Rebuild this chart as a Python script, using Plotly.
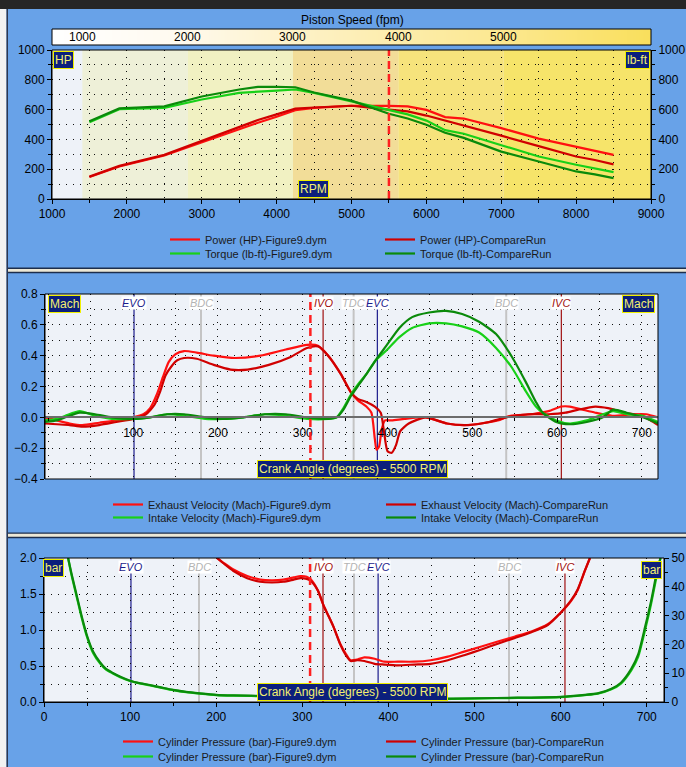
import numpy as np
import plotly.graph_objects as go

W, H = 686, 767
def px(x): return x / W
def py(y): return 1 - y / H

# ---------------- data: top panel (engine power / torque) ----------------
rpm = [1500, 1900, 2500, 3000, 3500, 3750, 4000, 4250, 4500, 5000, 5500, 5750, 6000, 6250, 6500, 7000, 7500, 8000, 8250, 8500]
power_f9 = [148, 218, 292, 382, 472, 512, 552, 596, 612, 626, 625, 622, 598, 550, 540, 476, 405, 350, 325, 296]
power_cr = [150, 222, 296, 390, 486, 530, 568, 606, 614, 626, 600, 588, 560, 525, 490, 425, 355, 285, 262, 232]
torque_f9 = [515, 603, 612, 668, 712, 722, 728, 735, 712, 655, 598, 568, 526, 462, 438, 360, 285, 230, 205, 180]
torque_cr = [522, 608, 622, 688, 735, 752, 752, 750, 715, 660, 572, 540, 498, 445, 410, 318, 252, 185, 165, 140]
rpm_ticks = [1000, 2000, 3000, 4000, 5000, 6000, 7000, 8000, 9000]
piston_ticks = [1000, 2000, 3000, 4000, 5000]
piston_band_edges = [1000, 2000, 3000, 4000, 5000, 6400]
piston_band_colors = ["#eef0d8", "#f1f1c2", "#f2dd98", "#f6e37c", "#f6e46a"]
current_rpm = 5500

# ---------------- data: middle panel (port velocities) ----------------
exh_f9_deg = [-4, 10, 25, 40, 60, 80, 100, 112, 120, 128, 135, 142, 150, 160, 175, 195, 220, 250, 280, 305, 318, 330, 345, 357, 365, 375, 381, 385, 387, 390, 393, 397, 405, 420, 445, 470, 490, 510, 530, 545, 570, 590, 605, 615, 630, 645, 665, 690, 705, 719]
exh_f9 = [0.0, -0.02, -0.04, -0.05, -0.035, -0.02, 0.0, 0.02, 0.06, 0.15, 0.26, 0.36, 0.41, 0.43, 0.42, 0.40, 0.385, 0.40, 0.44, 0.47, 0.465, 0.40, 0.28, 0.16, 0.11, 0.07, 0.03, -0.14, -0.21, -0.19, -0.08, -0.02, -0.02, -0.01, 0.0, -0.04, -0.05, -0.04, -0.02, 0.01, 0.02, 0.04, 0.07, 0.07, 0.05, 0.03, 0.01, 0.02, 0.02, 0.0]
exh_cr_deg = [-4, 10, 25, 40, 60, 80, 100, 115, 125, 132, 138, 145, 152, 160, 175, 195, 215, 235, 260, 285, 305, 318, 330, 345, 357, 365, 375, 385, 392, 396, 400, 405, 410, 415, 425, 445, 470, 495, 520, 540, 565, 590, 610, 625, 645, 660, 680, 700, 710, 719]
exh_cr = [-0.04, -0.045, -0.05, -0.06, -0.05, -0.03, -0.01, 0.02, 0.08, 0.17, 0.27, 0.33, 0.37, 0.385, 0.38, 0.34, 0.31, 0.31, 0.34, 0.39, 0.45, 0.46, 0.40, 0.28, 0.16, 0.12, 0.10, 0.07, 0.03, -0.10, -0.22, -0.23, -0.18, -0.09, -0.04, 0.0, -0.04, -0.05, -0.03, 0.0, 0.02, 0.02, 0.03, 0.05, 0.07, 0.06, 0.03, 0.01, -0.02, -0.05]
int_deg = [-4, 10, 20, 37, 55, 75, 100, 120, 140, 160, 185, 205, 230, 255, 280, 305, 330, 340, 348, 357, 366, 375, 386, 398, 414, 429, 449, 469, 488, 508, 528, 547, 563, 575, 583, 599, 615, 635, 654, 666, 682, 701, 719]
int_f9 = [-0.02, -0.01, 0.01, 0.04, 0.01, -0.01, -0.01, 0.0, 0.02, 0.01, -0.01, -0.01, 0.0, 0.02, 0.01, -0.01, -0.01, 0.0, 0.06, 0.15, 0.22, 0.28, 0.37, 0.43, 0.52, 0.58, 0.61, 0.61, 0.59, 0.55, 0.45, 0.32, 0.17, 0.07, 0.03, -0.02, -0.04, -0.02, 0.02, 0.04, 0.02, 0.01, -0.03]
int_cr = [-0.03, -0.02, 0.0, 0.03, 0.02, 0.0, -0.01, 0.0, 0.02, 0.02, 0.0, -0.01, 0.0, 0.02, 0.02, 0.0, -0.01, 0.0, 0.05, 0.14, 0.21, 0.28, 0.37, 0.46, 0.58, 0.65, 0.68, 0.69, 0.67, 0.62, 0.54, 0.39, 0.23, 0.10, 0.03, -0.03, -0.045, -0.03, 0.0, 0.05, 0.03, 0.0, -0.04]

# ---------------- data: bottom panel (cylinder pressure) ----------------
cyl_red_deg = [201, 210, 220, 236, 251, 265, 278, 290, 298, 305, 310, 318, 325, 331, 336, 344, 350, 356, 364, 372, 384, 395, 411, 430, 449, 469, 488, 508, 527, 547, 566, 585, 600, 612, 620, 628, 634]
cyl_red_f9 = [2.0, 1.92, 1.84, 1.75, 1.70, 1.69, 1.70, 1.73, 1.75, 1.74, 1.70, 1.55, 1.33, 1.18, 1.05, 0.81, 0.68, 0.58, 0.59, 0.62, 0.60, 0.56, 0.56, 0.56, 0.58, 0.63, 0.70, 0.77, 0.84, 0.91, 0.98, 1.08, 1.24, 1.40, 1.56, 1.82, 2.0]
cyl_red_cr = [2.0, 1.91, 1.82, 1.72, 1.67, 1.66, 1.67, 1.70, 1.72, 1.71, 1.68, 1.55, 1.33, 1.18, 1.05, 0.80, 0.66, 0.57, 0.58, 0.57, 0.53, 0.52, 0.51, 0.52, 0.53, 0.58, 0.65, 0.73, 0.81, 0.89, 0.97, 1.07, 1.24, 1.41, 1.57, 1.82, 2.0]
cyl_grn_deg = [28, 32, 38, 44, 50, 57, 65, 72, 80, 90, 100, 112, 123, 137, 150, 165, 181, 200, 220, 260, 300, 350, 400, 450, 500, 550, 600, 628, 643, 659, 670, 682, 690, 698, 705, 713, 716]
cyl_grn_f9 = [50, 44, 36.5, 29, 22.5, 17, 13.4, 11.2, 9.9, 8.4, 7.3, 6.4, 5.8, 4.9, 4.1, 3.4, 2.9, 2.4, 2.2, 2.0, 1.9, 1.5, 1.1, 1.0, 1.2, 1.4, 1.7, 2.4, 2.9, 4.4, 6.4, 11, 15.7, 25, 34, 46, 50]
cyl_grn_cr = [50, 44.5, 37, 29.5, 23, 17.5, 13.8, 11.5, 10.1, 8.6, 7.4, 6.5, 5.9, 5.0, 4.2, 3.5, 3.0, 2.5, 2.3, 2.1, 2.0, 1.6, 1.2, 1.1, 1.3, 1.5, 1.8, 2.5, 3.0, 4.6, 6.7, 11.5, 16.5, 26, 35, 47, 50]

crank_ticks = [100, 200, 300, 400, 500, 600, 700]
crank_ticks_bottom = [0, 100, 200, 300, 400, 500, 600, 700]
event_names = ["EVO", "BDC", "IVO", "TDC", "EVC", "BDC", "IVC"]
event_angles = [101, 180, 324, 360, 388, 540, 605]
event_colors = ["#1c1c8c", "#c4c4c4", "#a01010", "#c4c4c4", "#1c1c8c", "#c4c4c4", "#a01010"]
event_widths = [1.2, 2, 1.2, 2, 1.2, 2, 1.2]
current_angle = 309

# ---------------- styles ----------------
FONT = "Liberation Sans, Arial, sans-serif"
TICKFONT = dict(family=FONT, size=12, color="#000000")
DOT = "1px,6px"
GRIDC = "#101010"
RED_F9, RED_CR = "#ff1010", "#d00000"
GRN_F9, GRN_CR = "#18d018", "#0a8a0a"
BLUE_BG = "#68a2e8"
BOX_BG, BOX_BORDER, BOX_TEXT = "#0b1f7c", "#f0f000", "#f4f070"

fig = go.Figure()

# piston speed gradient bar
piston_grad = np.linspace(712, 6400, 160)
fig.add_trace(go.Heatmap(x=piston_grad, y=[0.5], z=[piston_grad], xaxis="x2", yaxis="y3",
                         colorscale=[[0, "#ffffff"], [0.2, "#fffaf0"], [0.45, "#fdf0c0"], [0.75, "#fce890"], [1, "#f9df5c"]],
                         showscale=False, zsmooth="best", hoverinfo="skip", showlegend=False))

def line(x, y, xa, ya, color, name, legend, shape="linear"):
    fig.add_trace(go.Scatter(x=x, y=y, xaxis=xa, yaxis=ya, mode="lines", name=name,
                             line=dict(color=color, width=2.2, shape=shape, smoothing=0.6),
                             legend=legend, showlegend=True, hoverinfo="skip"))

line(rpm, power_f9, "x", "y", RED_F9, "Power (HP)-Figure9.dym", "legend")
line(rpm, power_cr, "x", "y", RED_CR, "Power (HP)-CompareRun", "legend2")
line(rpm, torque_f9, "x", "y2", GRN_F9, "Torque (lb-ft)-Figure9.dym", "legend3")
line(rpm, torque_cr, "x", "y2", GRN_CR, "Torque (lb-ft)-CompareRun", "legend4")

line(exh_f9_deg, exh_f9, "x3", "y4", RED_F9, "Exhaust Velocity (Mach)-Figure9.dym", "legend5", "spline")
line(exh_cr_deg, exh_cr, "x3", "y4", RED_CR, "Exhaust Velocity (Mach)-CompareRun", "legend6", "spline")
line(int_deg, int_f9, "x3", "y4", GRN_F9, "Intake Velocity (Mach)-Figure9.dym", "legend7", "spline")
line(int_deg, int_cr, "x3", "y4", GRN_CR, "Intake Velocity (Mach)-CompareRun", "legend8", "spline")

line(cyl_red_deg, cyl_red_f9, "x4", "y6", RED_F9, "Cylinder Pressure (bar)-Figure9.dym", "legend9", "spline")
line(cyl_red_deg, cyl_red_cr, "x4", "y6", RED_CR, "Cylinder Pressure (bar)-CompareRun", "legend10", "spline")
line(cyl_grn_deg, cyl_grn_f9, "x4", "y7", GRN_F9, "Cylinder Pressure (bar)-Figure9.dym", "legend11", "spline")
line(cyl_grn_deg, cyl_grn_cr, "x4", "y7", GRN_CR, "Cylinder Pressure (bar)-CompareRun", "legend12", "spline")

# ---------------- axes ----------------
def minor(dt, grid=True, t0=0):
    return dict(tick0=t0, dtick=dt, showgrid=grid, gridcolor=GRIDC, griddash=DOT, gridwidth=1,
                ticks="outside", ticklen=3, tickcolor="#000000")

def xax(**kw):
    d = dict(showline=True, linecolor="#000000", linewidth=1, ticks="outside", ticklen=4,
             tickcolor="#000000", tickfont=TICKFONT, showgrid=True, gridcolor=GRIDC,
             griddash=DOT, gridwidth=1, zeroline=False, fixedrange=True, automargin=False)
    d.update(kw)
    return d

mid_dom = [py(479), py(294)]
zero_pos = mid_dom[0] + (mid_dom[1] - mid_dom[0]) * (0.4 / 1.2)

fig.update_layout(
    xaxis=xax(domain=[px(52), px(651)], range=[1000, 9000], anchor="y", tickvals=rpm_ticks,
              minor=minor(500, t0=1000)),
    yaxis=xax(domain=[py(199), py(50)], range=[0, 1000], anchor="x", dtick=200, tick0=0,
              minor=minor(100)),
    yaxis2=xax(overlaying="y", side="right", anchor="x", range=[0, 1000], dtick=200, tick0=0,
               showgrid=False, minor=minor(100, grid=False)),
    xaxis2=dict(domain=[px(52), px(651)], range=[712, 6400], anchor="y3", visible=False, fixedrange=True),
    yaxis3=dict(domain=[py(45), py(29)], range=[0, 1], anchor="x2", visible=False, fixedrange=True),
    xaxis3=xax(domain=[px(45), px(658)], range=[-4, 719], anchor="free", position=zero_pos,
               tickvals=crank_ticks, linecolor="#6c6c6c", linewidth=2, minor=minor(50)),
    yaxis4=xax(domain=mid_dom, range=[-0.4, 0.8], anchor="x3", dtick=0.2, tick0=0, tickformat=".1f",
               minor=minor(0.1)),
    yaxis5=xax(overlaying="y4", side="right", anchor="x3", range=[-0.4, 0.8], dtick=0.2, tick0=0,
               tickformat=".1f", showgrid=False, minor=minor(0.1, grid=False)),
    xaxis4=xax(domain=[px(44), px(664)], range=[0, 720], anchor="y6", tickvals=crank_ticks_bottom,
               minor=minor(50)),
    yaxis6=xax(domain=[py(702), py(558)], range=[0, 2], anchor="x4", dtick=0.5, tick0=0, tickformat=".1f",
               minor=minor(0.25)),
    yaxis7=xax(overlaying="y6", side="right", anchor="x4", range=[0, 50], dtick=10, tick0=0,
               showgrid=False, minor=minor(5, grid=False)),
)

# ---------------- legends (one entry each, placed in two columns) ----------------
leg_font = dict(family=FONT, size=11, color="#1a1a1a")
leg_pos = {
    "legend": (165, 240), "legend2": (380, 240), "legend3": (165, 254), "legend4": (380, 254),
    "legend5": (108, 505), "legend6": (381, 505), "legend7": (108, 518), "legend8": (381, 518),
    "legend9": (118, 742), "legend10": (381, 742), "legend11": (118, 757), "legend12": (381, 757),
}
leg_layout = {}
for k, (lx, ly) in leg_pos.items():
    leg_layout[k] = dict(x=px(lx), y=py(ly - 15), xanchor="left", yanchor="top", bgcolor="rgba(0,0,0,0)",
                         borderwidth=0, font=leg_font, orientation="v", tracegroupgap=0)
fig.update_layout(**leg_layout)

# ---------------- decorations ----------------
shapes = []
# window chrome
shapes.append(dict(type="rect", xref="paper", yref="paper", x0=0, x1=1, y0=py(9), y1=1,
                   fillcolor="#262626", line=dict(width=0), layer="below"))
shapes.append(dict(type="rect", xref="paper", yref="paper", x0=0, x1=px(6.5), y0=0, y1=py(9),
                   fillcolor="#f2f2f2", line=dict(width=0), layer="below"))
shapes.append(dict(type="rect", xref="paper", yref="paper", x0=px(6.5), x1=px(8), y0=0, y1=py(9),
                   fillcolor="#2c3650", line=dict(width=0), layer="below"))
for (a, b) in [(267.6, 273.2), (532.4, 538.2)]:
    shapes.append(dict(type="rect", xref="paper", yref="paper", x0=px(8), x1=1, y0=py(b), y1=py(a),
                       fillcolor="#1d2e4c", line=dict(width=0), layer="below"))
    shapes.append(dict(type="rect", xref="paper", yref="paper", x0=px(8), x1=1, y0=py(b - 1.4), y1=py(a + 1.3),
                       fillcolor="#ece8d6", line=dict(width=0), layer="below"))
# piston speed bands behind the power plot
for i, c in enumerate(piston_band_colors):
    shapes.append(dict(type="rect", xref="x2", yref="y domain", x0=piston_band_edges[i], x1=piston_band_edges[i + 1],
                       y0=0, y1=1, fillcolor=c, line=dict(width=0), layer="below"))
# event lines
for xr, yr in [("x3", "y4"), ("x4", "y6")]:
    for ang, col, wd in zip(event_angles, event_colors, event_widths):
        shapes.append(dict(type="line", xref=xr, yref=f"{yr} domain", x0=ang, x1=ang, y0=0, y1=1,
                           line=dict(color=col, width=wd), layer="below"))
    shapes.append(dict(type="line", xref=xr, yref=f"{yr} domain", x0=current_angle, x1=current_angle, y0=0, y1=1,
                       line=dict(color="#ff2020", width=2.5, dash="8px,5px"), layer="above"))
shapes.append(dict(type="line", xref="x", yref="y domain", x0=current_rpm, x1=current_rpm, y0=0, y1=1,
                   line=dict(color="#ff2020", width=2.5, dash="8px,5px"), layer="above"))
# frames
for xr, yr in [("x", "y"), ("x2", "y3"), ("x3", "y4"), ("x4", "y6")]:
    shapes.append(dict(type="rect", xref=f"{xr} domain", yref=f"{yr} domain", x0=0, x1=1, y0=0, y1=1,
                       line=dict(color="#000000", width=1), fillcolor="rgba(0,0,0,0)", layer="above"))
fig.update_layout(shapes=shapes)

ann = []
ann.append(dict(text="Piston Speed (fpm)", xref="paper", yref="paper", x=px(352), y=py(20), showarrow=False,
                font=dict(family=FONT, size=12, color="#000000"), xanchor="center", yanchor="middle"))
for t in piston_ticks:
    ann.append(dict(text=str(t), xref="x2", yref="y3 domain", x=t, y=0.5, showarrow=False,
                    font=dict(family=FONT, size=12, color="#000000"), xanchor="center", yanchor="middle"))

def box(text, cx, cy, size=12):
    ann.append(dict(text=text, xref="paper", yref="paper", x=px(cx), y=py(cy), showarrow=False,
                    font=dict(family=FONT, size=size, color=BOX_TEXT), bgcolor=BOX_BG, bordercolor=BOX_BORDER,
                    borderwidth=1, borderpad=1, xanchor="center", yanchor="middle"))

box("HP", 63, 60)
box("lb-ft", 637.5, 60)
box("RPM", 313.5, 189)
box("Mach", 64, 303.5)
box("Mach", 638, 303.5)
box("Crank Angle (degrees) - 5500 RPM", 352, 468.5)
box("bar", 53.5, 568)
box("bar", 651.5, 569.5)
box("Crank Angle (degrees) - 5500 RPM", 352, 692)

for xr, yr, yy in [("x3", "y4", 0.951), ("x4", "y6", 0.9375)]:
    for nm, ang, col in zip(event_names, event_angles, event_colors):
        tc = "#b4b4b4" if col == "#c4c4c4" else col
        ann.append(dict(text=f"<i>{nm}</i>", xref=xr, yref=f"{yr} domain", x=ang, y=yy, showarrow=False,
                        font=dict(family=FONT, size=11, color=tc), bgcolor="#ffffff", borderpad=0,
                        xanchor="center", yanchor="middle"))
fig.update_layout(annotations=ann)

fig.update_layout(width=W, height=H, autosize=False, margin=dict(l=0, r=0, t=0, b=0, autoexpand=False),
                  paper_bgcolor=BLUE_BG, plot_bgcolor="#eef2f8", font=dict(family=FONT, size=12))

fig.write_html("out.html", config={"displayModeBar": False},
               post_script="document.body.style.margin='0';document.body.style.overflow='hidden';")
